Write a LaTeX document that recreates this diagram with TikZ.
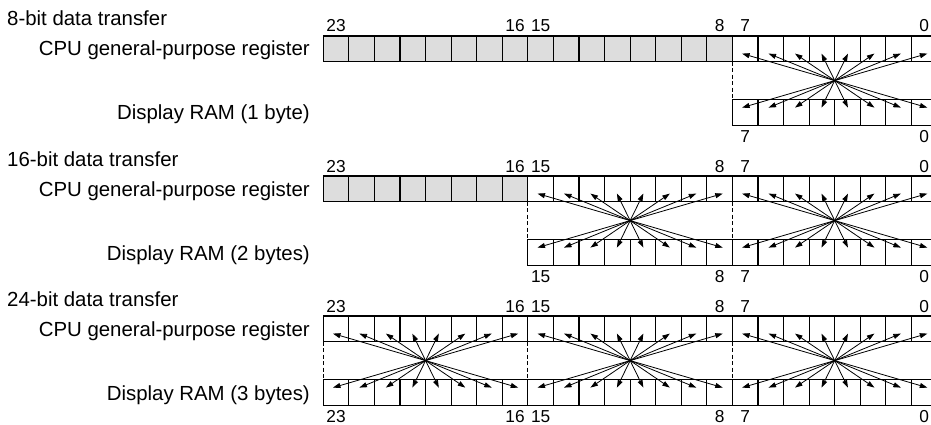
\documentclass[tikz,border=0pt]{standalone}
\usepackage{fontspec}
\setmainfont{Liberation Sans}
\usetikzlibrary{arrows.meta,calc}
\tikzset{
  cell/.style={draw=black, line width=1.2pt},
  xfer/.style={line width=0.8pt, -{Triangle[length=7.5pt,width=5pt]}},
  guide/.style={line width=0.8pt, dash pattern=on 4pt off 2.5pt},
  bitnum/.style={font=\fontsize{17.3}{20}\selectfont, inner sep=0pt, anchor=base},
  rowlabel/.style={font=\fontsize{20.4}{24}\selectfont, inner sep=0pt, anchor=base east},
  titlelabel/.style={font=\fontsize{20.4}{24}\selectfont, inner sep=0pt, anchor=base west},
}
\definecolor{cellgray}{RGB}{221,221,221}
\begin{document}
\begin{tikzpicture}[x=1pt,y=-1pt]
\useasboundingbox (0,0) rectangle (931,425);
\clip (0,0) rectangle (931,425);
\def\w{25.57}
\def\xo{323.3}
\foreach \s/\f/\ttl/\ram in {1/2/8-bit data transfer/Display RAM (1 byte),
                             2/1/16-bit data transfer/Display RAM (2 bytes),
                             3/0/24-bit data transfer/Display RAM (3 bytes)} {
  \pgfmathsetmacro\oy{(\s-1)*140}
  % texts
  \node[titlelabel] (title\s) at (7,{26+\oy}) {\ttl};
  \node[rowlabel] (reg\s) at (310,{56+\oy}) {CPU general-purpose register};
  \node[rowlabel] (ram\s) at (310,{120+\oy}) {\ram};
  % register cells and bit numbers
  \foreach \b in {0,1,2} {
    \ifnum\b<\f\relax \def\cf{cellgray}\else\def\cf{white}\fi
    \foreach \k in {0,...,7} {
      \pgfmathsetmacro\xx{\xo+(8*\b+\k)*\w}
      \draw[cell, fill=\cf] (\xx,{36+\oy}) rectangle ++(\w,25.6);
    }
    \pgfmathtruncatemacro\hi{23-8*\b}
    \pgfmathtruncatemacro\lo{16-8*\b}
    \node[bitnum] (rh\s-\b) at ({\xo+(8*\b+0.5)*\w},{32+\oy}) {\hi};
    \node[bitnum] (rl\s-\b) at ({\xo+(8*\b+7.5)*\w},{32+\oy}) {\lo};
  }
  % transferred bytes
  \foreach \b in {\f,...,2} {
    \foreach \k in {0,...,7} {
      \pgfmathsetmacro\xx{\xo+(8*\b+\k)*\w}
      \draw[cell, fill=white] (\xx,{99.6+\oy}) rectangle ++(\w,25.6);
    }
    \pgfmathtruncatemacro\hi{23-8*\b}
    \pgfmathtruncatemacro\lo{16-8*\b}
    \node[bitnum] (mh\s-\b) at ({\xo+(8*\b+0.5)*\w},{142.8+\oy}) {\hi};
    \node[bitnum] (ml\s-\b) at ({\xo+(8*\b+7.5)*\w},{142.8+\oy}) {\lo};
    \coordinate (gt\s-\b) at ({\xo+8*\b*\w},{61.6+\oy});
    \coordinate (gb\s-\b) at ({\xo+8*\b*\w},{99.6+\oy});
    \draw[guide] (gt\s-\b) -- (gb\s-\b);
    \coordinate (c\s-\b) at ({\xo+(8*\b+4)*\w},{80.6+\oy});
    \foreach \k in {0,...,7} {
      \pgfmathsetmacro\tx{\xo+(8*\b+4)*\w+1.035*(\k-3.5)*\w}
      \coordinate (u\s-\b-\k) at (\tx,{53.6+\oy});
      \coordinate (d\s-\b-\k) at (\tx,{107.6+\oy});
      \draw[xfer] (c\s-\b) -- (u\s-\b-\k);
      \draw[xfer] (c\s-\b) -- (d\s-\b-\k);
    }
  }
}
\end{tikzpicture}
\end{document}
